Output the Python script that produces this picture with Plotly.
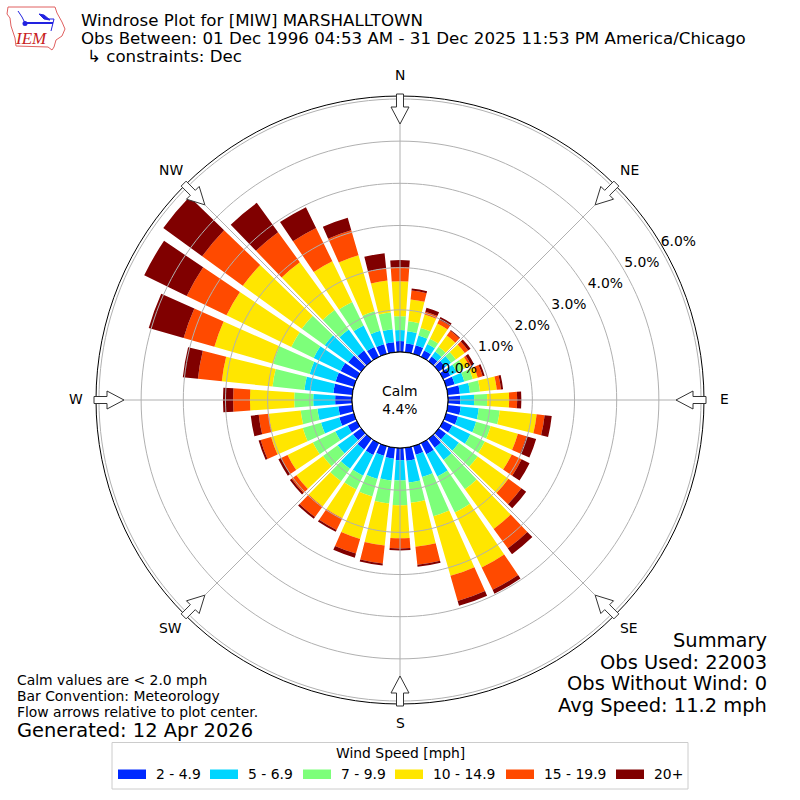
import math
import plotly.graph_objects as go

W = 800
CX, CY = 400, 400
R_OUT = 304
R_HOLE = 48
R_MAX = 6.07
FONT = "DejaVu Sans"

DIRS = list(range(0, 360, 10))

SPEED_NAMES = ["2 - 4.9", "5 - 6.9", "7 - 9.9", "10 - 14.9", "15 - 19.9", "20+"]
SPEED_COLORS = ["#0029ff", "#00d5ff", "#7dff7a", "#ffe600", "#ff4a00", "#800000"]

S1 = [.26, .21, .21, .17, .14, .19, .19, .21, .29, .29, .31, .29, .24, .21, .26, .29, .21, .31,
      .29, .26, .24, .31, .31, .24, .24, .36, .33, .40, .45, .45, .43, .38, .31, .26, .24, .24]
S2 = [.26, .29, .24, .17, .14, .17, .17, .24, .24, .33, .43, .45, .48, .38, .36, .59, .55, .52,
      .48, .52, .57, .55, .57, .45, .33, .45, .50, .52, .69, .64, .71, .69, .62, .57, .33, .31]
S3 = [.33, .24, .19, .14, .14, .14, .19, .21, .24, .31, .50, .36, .38, .55, .86, .95, .97, .48,
      .59, .55, .43, .36, .36, .43, .59, .45, .40, .45, .76, .90, .59, .67, .57, .62, .48, .40]
S4 = [.83, .52, .33, .40, .33, .26, .14, .12, .40, .52, .88, .67, .71, .90, 1.16, 1.45, 1.47, 1.05,
      .78, 1.00, 1.05, .76, .74, .78, .67, .78, .76, 1.05, 1.21, 1.45, 1.71, 1.73, 1.40, 1.07, 1.38, .76]
S5 = [.33, .21, .07, .10, .14, .10, .05, .12, .10, .19, .19, .21, .26, .38, .57, .59, .62, .43,
      .24, .43, .36, .31, .31, .14, .17, .26, .24, .40, .57, .76, 1.05, 1.19, .88, .88, .62, .29]
S6 = [.17, .05, .10, .07, .02, .07, .07, .05, .05, .10, .17, .24, .21, .14, .17, .10, .12, .05,
      .05, .05, .10, .05, .05, .05, .07, .05, .19, .24, .36, .86, 1.12, 1.14, .86, .55, .31, .36]
SPEEDS = [S1, S2, S3, S4, S5, S6]

RINGS = [1, 2, 3, 4, 5, 6]
RING_LABELS = ["0.0%", "1.0%", "2.0%", "3.0%", "4.0%", "5.0%", "6.0%"]
COMPASS = ["N", "NE", "E", "SE", "S", "SW", "W", "NW"]
COMPASS_DEG = [0, 45, 90, 135, 180, 225, 270, 315]

TITLE_LINES = [
    "Windrose Plot for [MIW] MARSHALLTOWN",
    "Obs Between: 01 Dec 1996 04:53 AM - 31 Dec 2025 11:53 PM America/Chicago",
    "\u21b3 constraints: Dec",
]
NOTES = ["Calm values are < 2.0 mph", "Bar Convention: Meteorology", "Flow arrows relative to plot center."]
SUMMARY = ["Summary", "Obs Used: 22003", "Obs Without Wind: 0", "Avg Speed: 11.2 mph"]


def px(x):
    return x / W


def py(y):
    return 1 - y / W


def note(text, x, y, size, anchor="left", color="black", family=FONT):
    fig.add_annotation(
        text=text, x=px(x), y=py(y), xref="paper", yref="paper",
        xanchor=anchor, yanchor="middle", showarrow=False, borderpad=0,
        font=dict(family=family, size=size, color=color),
    )


def polygon(points, fill, line_color, line_width=1, closed=True):
    path = "M " + " L ".join(f"{px(a):.5f},{py(b):.5f}" for a, b in points)
    if closed:
        path += " Z"
    fig.add_shape(type="path", path=path, xref="paper", yref="paper",
                  fillcolor=fill, line=dict(color=line_color, width=line_width))


fig = go.Figure()

# bars
for name, color, vals in zip(SPEED_NAMES, SPEED_COLORS, SPEEDS):
    fig.add_trace(go.Barpolar(
        r=vals, theta=DIRS, width=8, name=name,
        marker=dict(color=color, line=dict(width=0)),
        showlegend=False,
    ))

# grid sits on top of the bars, like the original
circle = list(range(0, 361, 2))
for ring in RINGS:
    fig.add_trace(go.Scatterpolar(
        r=[ring] * len(circle), theta=circle, mode="lines",
        line=dict(color="#b0b0b0", width=1), showlegend=False, hoverinfo="skip",
    ))
for deg in COMPASS_DEG:
    fig.add_trace(go.Scatterpolar(
        r=[0, 6], theta=[deg, deg], mode="lines",
        line=dict(color="#b0b0b0", width=1), showlegend=False, hoverinfo="skip",
    ))
fig.add_trace(go.Scatterpolar(
    r=[0] * len(circle), theta=circle, mode="lines",
    line=dict(color="black", width=1), showlegend=False, hoverinfo="skip",
))
fig.add_trace(go.Scatterpolar(
    r=[0] + RINGS, theta=[60] * 7, mode="text", text=RING_LABELS,
    textposition="top right", textfont=dict(family=FONT, size=13.9, color="black"),
    showlegend=False, hoverinfo="skip",
))

fig.update_layout(
    width=W, height=W,
    autosize=False,
    margin=dict(l=0, r=0, t=0, b=0),
    paper_bgcolor="white",
    showlegend=False,
    polar=dict(
        domain=dict(x=[(CX - R_OUT) / W, (CX + R_OUT) / W], y=[(CY - R_OUT) / W, (CY + R_OUT) / W]),
        hole=R_HOLE / R_OUT,
        barmode="stack",
        bargap=0,
        bgcolor="white",
        radialaxis=dict(range=[0, R_MAX], showgrid=False, showline=False, showticklabels=False, ticks=""),
        angularaxis=dict(direction="clockwise", rotation=90, showgrid=False, showticklabels=False, ticks="",
                         showline=True, linecolor="black", linewidth=1),
    ),
)

# flow arrows + compass labels
for label, deg in zip(COMPASS, COMPASS_DEG):
    a = math.radians(deg)
    ux, uy = math.sin(a), -math.cos(a)
    vx, vy = math.cos(a), math.sin(a)
    shape = [(306, 3.5), (293, 3.5), (293, 9), (276, 0), (293, -9), (293, -3.5), (306, -3.5)]
    pts = [(CX + r * ux + s * vx, CY + r * uy + s * vy) for r, s in shape]
    polygon(pts, "white", "#333333")
    note(label, CX + 324 * ux, CY + 324 * uy - 1, 13.9, anchor="center")

# header
for line, y in zip(TITLE_LINES, [21, 38.5, 56]):
    note(line, 86 if line.startswith("\u21b3") else 80, y, 16.67)

# IEM logo
polygon([(8, 7), (55, 7), (57, 13), (62, 22), (65, 29), (62, 36), (56, 40), (54, 47), (52, 50), (48, 47),
         (16, 46), (15, 38), (11, 26), (10, 18), (7, 14)], "white", "#e06060")
polygon([(25, 23), (53, 23)], "rgba(0,0,0,0)", "#2222e0", 2, closed=False)
polygon([(18, 11), (22, 17), (25, 23)], "rgba(0,0,0,0)", "#2222e0", 1, closed=False)
polygon([(39, 14), (44, 15), (50, 20), (44, 19)], "#2222e0", "#2222e0")
polygon([(47, 19), (54, 19), (51, 31)], "rgba(0,0,0,0)", "#2222e0", 1, closed=False)
fig.add_shape(type="circle", xref="paper", yref="paper", x0=px(22.5), x1=px(27.5), y0=py(26), y1=py(21),
              fillcolor="#2222e0", line=dict(width=0))
note("<i>IEM</i>", 30.5, 38.5, 17, anchor="center", color="#c82020", family="Liberation Serif")

# centre label
note("Calm<br>4.4%", CX, 400, 13.9, anchor="center")

# footer text
for line, y in zip(NOTES, [680, 696, 712]):
    note(line, 16, y, 13.9)
note("Generated: 12 Apr 2026", 16, 730, 19.45)
for line, y in zip(SUMMARY, [640, 662, 683, 705]):
    note(line, 768, y, 19.45, anchor="right")

# legend box
fig.add_shape(type="rect", xref="paper", yref="paper", x0=px(112), x1=px(688), y0=py(789), y1=py(742.5),
              fillcolor="white", line=dict(color="#cccccc", width=1))
note("Wind Speed [mph]", 400, 753, 13.9, anchor="center")
SWATCH_X = [118, 210, 303, 395, 506, 616]
for name, color, x0 in zip(SPEED_NAMES, SPEED_COLORS, SWATCH_X):
    fig.add_shape(type="rect", xref="paper", yref="paper", x0=px(x0), x1=px(x0 + 28), y0=py(779), y1=py(769.5),
                  fillcolor=color, line=dict(width=0))
    note(name, x0 + 37, 774, 13.9)

fig.write_html("out.html", config=dict(displayModeBar=False),
               post_script="document.body.style.margin = '0';")
